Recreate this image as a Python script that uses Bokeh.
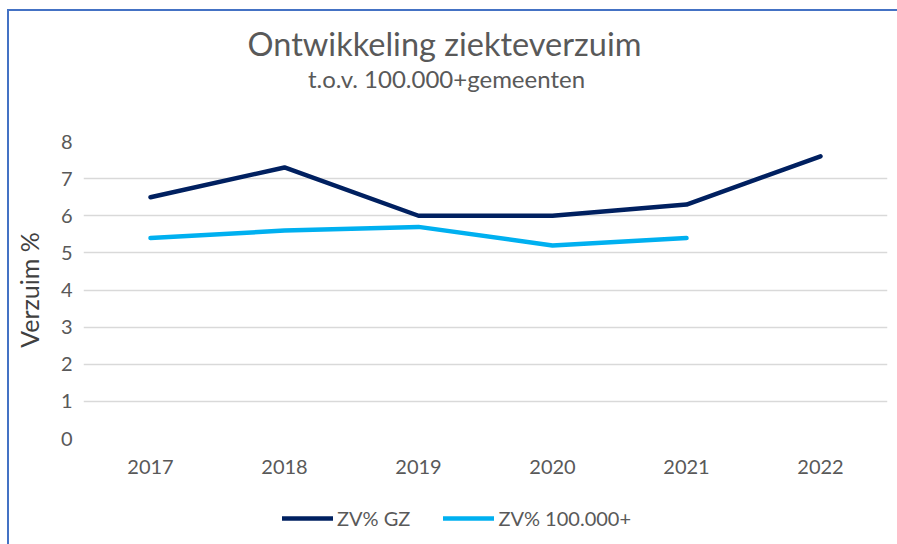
from bokeh.plotting import figure
from bokeh.layouts import column
from bokeh.models import Range1d, FactorRange, Legend, LegendItem, Label, FixedTicker
from bokeh.embed import file_html
from bokeh.resources import INLINE

years = ["2017", "2018", "2019", "2020", "2021", "2022"]
zv_gz = [6.5, 7.3, 6.0, 6.0, 6.3, 7.6]
zv_100k_years = ["2017", "2018", "2019", "2020", "2021"]
zv_100k = [5.4, 5.6, 5.7, 5.2, 5.4]
y_ticks = [0, 1, 2, 3, 4, 5, 6, 7, 8]
series_names = ["ZV% GZ", "ZV% 100.000+"]
series_colors = ["#002060", "#00B0F0"]
title_text = "Ontwikkeling ziekteverzuim"
subtitle_text = "t.o.v. 100.000+gemeenten"

TEXT = "#595959"
FONT = "Lato"
W = 888
# screen-pixel span of the aligned plot frames (used as data range of the text blocks)
FRAME_L, FRAME_R = 83, 887


def blank(fig):
    fig.axis.visible = False
    fig.grid.grid_line_color = None
    fig.outline_line_color = None
    fig.border_fill_color = "white"
    fig.background_fill_color = "white"


# ---- title block ----
top = figure(width=W, height=110, x_range=Range1d(FRAME_L, FRAME_R), y_range=Range1d(0, 110),
             output_backend="svg", toolbar_location=None,
             min_border_left=0, min_border_right=0, min_border_top=0, min_border_bottom=0)
blank(top)
top.add_layout(Label(x=444, y=78, text=title_text, text_align="center", text_baseline="middle",
                     text_font=FONT, text_font_size="32.5px", text_color=TEXT))
top.add_layout(Label(x=446, y=43, text=subtitle_text, text_align="center", text_baseline="middle",
                     text_font=FONT, text_font_size="24px", text_color=TEXT))

# ---- main chart ----
p = figure(width=W, height=362, x_range=FactorRange(*years), y_range=Range1d(0, 8),
           output_backend="svg", toolbar_location=None,
           min_border_left=74, min_border_right=10, min_border_top=20, min_border_bottom=45)
p.outline_line_color = None
p.background_fill_color = "white"
p.border_fill_color = "white"

r1 = p.line(years, zv_gz, line_color=series_colors[0], line_width=4.5, line_cap="round", line_join="round")
r2 = p.line(zv_100k_years, zv_100k, line_color=series_colors[1], line_width=4.5, line_cap="round", line_join="round")

p.xgrid.grid_line_color = None
p.ygrid.grid_line_color = "#D9D9D9"
p.ygrid.grid_line_width = 1.5
p.yaxis.ticker = FixedTicker(ticks=y_ticks)

for ax in (p.xaxis[0], p.yaxis[0]):
    ax.axis_line_color = None
    ax.major_tick_line_color = None
    ax.minor_tick_line_color = None
    ax.major_label_text_color = TEXT
    ax.major_label_text_font = FONT
    ax.major_label_text_font_size = "20px"

p.xaxis.major_label_standoff = 15
p.yaxis.major_label_standoff = 5
p.yaxis.axis_label = "Verzuim %"
p.yaxis.axis_label_text_font = FONT
p.yaxis.axis_label_text_font_size = "25px"
p.yaxis.axis_label_text_font_style = "normal"
p.yaxis.axis_label_text_color = "#404040"
p.yaxis.axis_label_standoff = 14

# ---- legend block (lines kept outside its visible range; only the legend shows) ----
leg = figure(width=W, height=61, x_range=FactorRange(*years), y_range=Range1d(100, 101),
             output_backend="svg", toolbar_location=None,
             min_border_left=0, min_border_right=0, min_border_top=0, min_border_bottom=0)
blank(leg)
l1 = leg.line(years, zv_gz, line_color=series_colors[0], line_width=4.5, line_cap="round")
l2 = leg.line(zv_100k_years, zv_100k, line_color=series_colors[1], line_width=4.5, line_cap="round")
legend = Legend(items=[LegendItem(label=series_names[0], renderers=[l1]),
                       LegendItem(label=series_names[1], renderers=[l2])],
                orientation="horizontal", location=(199, 14),
                label_text_font=FONT, label_text_font_size="20px", label_text_color=TEXT,
                glyph_width=51, glyph_height=20, label_standoff=4, spacing=33,
                border_line_color=None, background_fill_alpha=0, margin=0, padding=0)
leg.add_layout(legend, "center")

layout = column(top, p, leg, spacing=0)
layout.styles = {"border-top": "2px solid #4472C4", "border-left": "2px solid #4472C4",
                 "margin-left": "7px", "margin-top": "9px"}

open("out.html", "w").write(file_html(layout, INLINE))
